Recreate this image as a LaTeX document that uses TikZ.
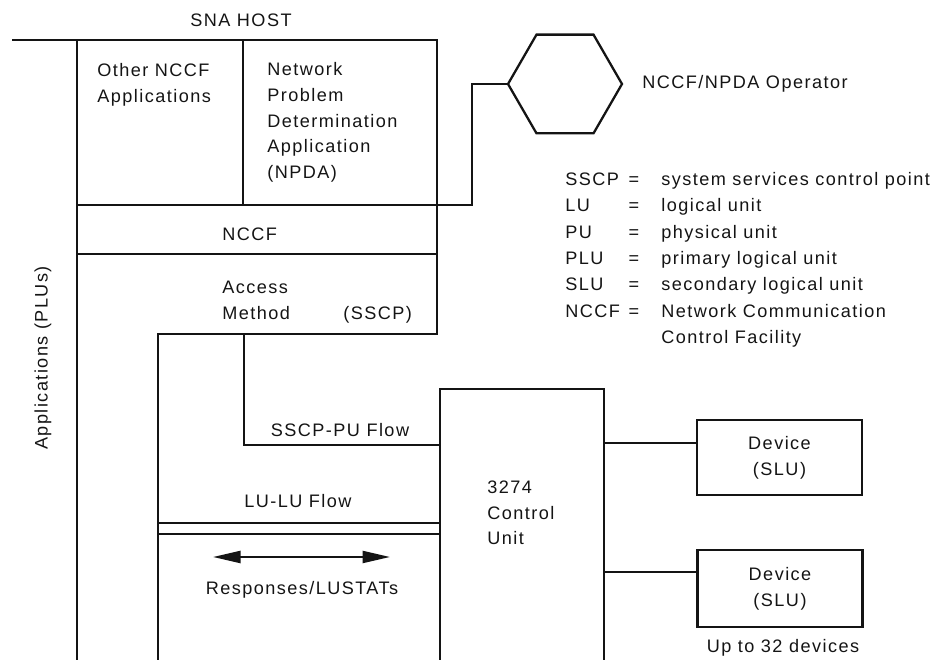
\documentclass[tikz,border=0pt]{standalone}
\usepackage{fontspec}
\setmainfont{Liberation Sans}[LetterSpace=8]
\usepackage{tikz}
\usetikzlibrary{arrows.meta,positioning,shapes.geometric,calc}
\definecolor{ink}{HTML}{141414}
\newcommand{\figfont}{\fontsize{10.3}{14.6}\selectfont}
\tikzset{
  wire/.style={line width=1.3pt,draw=ink},
  hostlabel/.style={font=\figfont,text=ink,align=left,inner sep=0pt,
                    anchor=base west},
  devbox/.style={draw=ink,line width=1.3pt,minimum width=3.3cm,
                 minimum height=1.5cm,align=center,inner sep=0pt,
                 font=\figfont,text=ink},
  cubox/.style={draw=ink,line width=1.3pt,minimum width=3.28cm,
                minimum height=6cm,inner sep=0pt,anchor=north west},
  opbox/.style={regular polygon,regular polygon sides=6,draw=ink,
                line width=1.3pt,minimum size=2.28cm,inner sep=0pt},
  resparr/.style={{Triangle[length=5.5mm,width=2.4mm]}-{Triangle[length=5.5mm,width=2.4mm]},
                  line width=1.3pt,draw=ink,fill=ink}
}

\begin{document}
\begin{tikzpicture}[x=1cm,y=1cm]
    \path[use as bounding box] (0,0) rectangle (18.68,13.2);

    \node[hostlabel,anchor=base] (hosttitle) at (4.82,12.67) {SNA HOST};
    \draw[wire] (0.24,12.4) -- (8.74,12.4) -- (8.74,6.52) -- (3.16,6.52) -- (3.16,-0.2);
    \draw[wire] (1.54,12.4) -- (1.54,-0.2);
    \draw[wire] (4.86,12.4) -- (4.86,9.1);
    \draw[wire] (1.54,9.1) -- (8.74,9.1);
    \draw[wire] (1.54,8.12) -- (8.74,8.12);
    \node[font=\figfont,text=ink,rotate=90] (plulabel) at (0.86,6.04) {Applications (PLUs)};

    \node[hostlabel] (othertext) at (1.94,11.15) {Other NCCF\\Applications};
    \node[hostlabel] (npdatext) at (5.34,9.63)
      {Network\\Problem\\Determination\\Application\\(NPDA)};
    \node[hostlabel] (nccftext) at (4.44,8.38) {NCCF};
    \node[hostlabel] (amtext) at (4.44,6.81) {Access\\Method};
    \node[hostlabel] (sscptext) at (6.86,6.8) {(SSCP)};

    \node[opbox] (oper) at (11.3,11.52) {};
    \node[hostlabel] (opertext) at (12.84,11.43) {NCCF/NPDA Operator};
    \coordinate (npdafoot) at (8.74,9.1);
    \draw[wire] (npdafoot) -| ([xshift=-0.7cm]oper.west) -- (oper.west);

    \foreach \short/\desc [count=\i] in {SSCP/system services control point,
        LU/logical unit,PU/physical unit,PLU/primary logical unit,
        SLU/secondary logical unit,NCCF/Network Communication}{
      \node[hostlabel] (abbr\i) at (11.3,{9.49-(\i-1)*0.527}) {\short};
      \node[hostlabel,anchor=base] (eq\i) at (12.68,{9.49-(\i-1)*0.527}) {=};
      \node[hostlabel] (desc\i) at (13.22,{9.49-(\i-1)*0.527}) {\desc};
    }
    \node[hostlabel] (desc7) at (13.22,6.33) {Control Facility};

    \node[cubox] (cu) at (8.78,5.44) {};
    \node[hostlabel] (cutext) at (9.74,2.3) {3274\\Control\\Unit};
    \coordinate (amfoot) at (4.88,6.52);
    \coordinate (cuin) at (8.78,4.3);
    \draw[wire] (amfoot) |- (cuin);
    \node[hostlabel,anchor=base] (pulabel) at (6.8,4.46) {SSCP-PU Flow};

    \coordinate (lulu1) at (3.16,2.74);
    \coordinate (lulu2) at (3.16,2.52);
    \draw[wire] (lulu1) -- (lulu1 -| cu.west);
    \draw[wire] (lulu2) -- (lulu2 -| cu.west);
    \node[hostlabel,anchor=base] (lulabel) at (5.96,3.04) {LU-LU Flow};
    \coordinate (respl) at (4.26,2.06);
    \coordinate (respr) at (7.8,2.06);
    \draw[resparr] (respl) -- (respr);
    \node[hostlabel,anchor=base] (resplabel) at (6.04,1.3) {Responses/LUSTATs};

    \node[devbox] (dev1) at (15.59,4.05) {Device\\(SLU)};
    \node[devbox,minimum height=1.54cm] (dev2) at (15.6,1.43) {Device\\(SLU)};
    \coordinate (cuout1) at (12.06,4.34);
    \coordinate (cuout2) at (12.06,1.76);
    \draw[wire] (cuout1) -- (cuout1 -| dev1.west);
    \draw[wire] (cuout2) -- (cuout2 -| dev2.west);
    \node[hostlabel,anchor=base] (uptext) at (15.66,0.14) {Up to 32 devices};
  \end{tikzpicture}
\end{document}
